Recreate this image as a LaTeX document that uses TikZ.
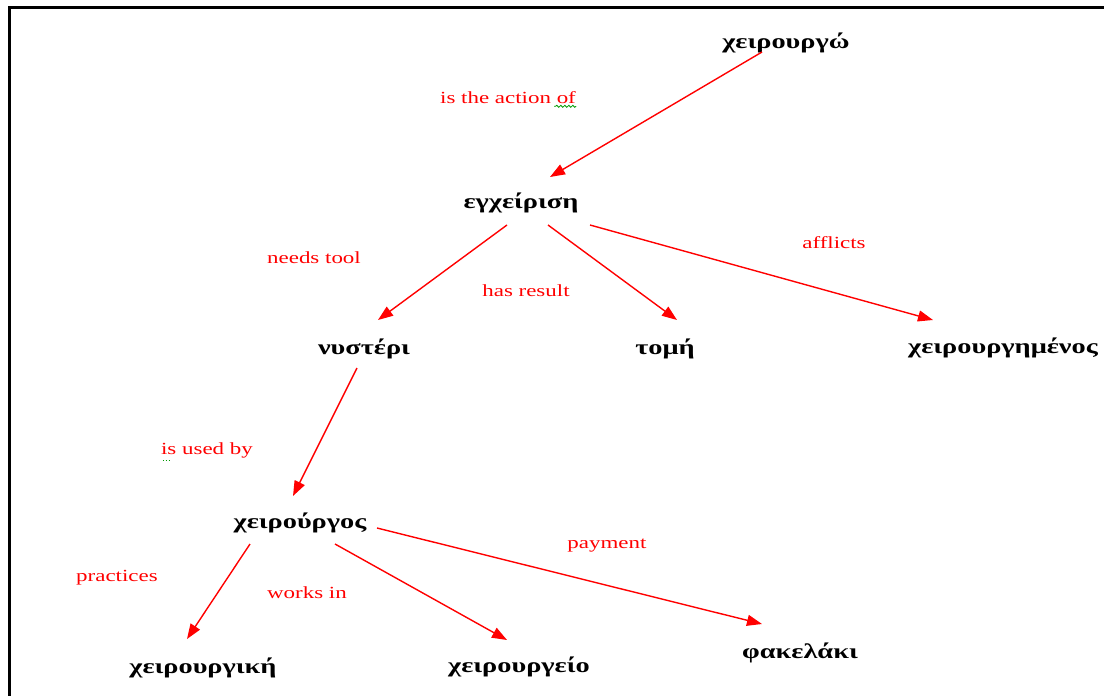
\documentclass[tikz,border=0pt]{standalone}
\usepackage{fontspec}
\setmainfont{Liberation Serif}[FakeStretch=1.35]
\usetikzlibrary{arrows.meta,decorations.pathmorphing}

\begin{document}
\begin{tikzpicture}[x=1pt,y=-1pt,
  term/.style={font=\bfseries\fontsize{21}{25}\selectfont, inner sep=0pt},
  rel/.style={font=\fontsize{17}{20}\selectfont, text=red, inner sep=0pt},
  link/.style={draw=red, line width=1.4pt, -{Triangle[length=15pt,width=11pt]}},
  spell/.style={draw=green!60!black, line width=0.8pt}]
\useasboundingbox (0,0) rectangle (1104,696);
\draw[line width=3pt] (9,696) -- (9,7.5) -- (1104,7.5);

% terms
\node[term] (operate)   at (786,43)  {χειρουργώ};
\node[term] (operation) at (521,203) {εγχείριση};
\node[term] (scalpel)   at (364,349) {νυστέρι};
\node[term] (incision)  at (665,349) {τομή};
\node[term] (patient)   at (1003,348) {χειρουργημένος};
\node[term] (surgeon)   at (300,523) {χειρούργος};
\node[term] (surgery)   at (203,668) {χειρουργική};
\node[term] (theatre)   at (519,667) {χειρουργείο};
\node[term] (envelope)  at (800,653) {φακελάκι};

% relation names
\node[rel] (actionof) at (508,98)  {is the action of};
\node[rel] (needs)    at (314,258) {needs tool};
\node[rel] (result)   at (526,291) {has result};
\node[rel] (afflicts) at (834,243) {afflicts};
\node[rel] (usedby)   at (207,450) {is used by};
\node[rel] (practice) at (117,578) {practices};
\node[rel] (worksin)  at (307,593) {works in};
\node[rel] (payment)  at (607,546) {payment};

% spell checker marks
\draw[spell, decorate, decoration={snake,amplitude=1pt,segment length=4pt}]
  ([yshift=-2pt]actionof.south east) -- ++(-22,0);
\draw[spell, dotted] ([xshift=2pt,yshift=-2pt]usedby.south west) -- ++(8,0);

% arrows
\draw[link] ([xshift=-24pt,yshift=-9pt]operate.center) -- ([xshift=29pt,yshift=26pt]operation.center);
\draw[link] ([xshift=-14pt,yshift=-22pt]operation.center) -- ([xshift=14pt,yshift=29pt]scalpel.center);
\draw[link] ([xshift=27pt,yshift=-22pt]operation.center) -- ([xshift=12pt,yshift=29pt]incision.center);
\draw[link] ([xshift=69pt,yshift=-22pt]operation.center) -- ([xshift=-70pt,yshift=28pt]patient.center);
\draw[link] ([xshift=-7pt,yshift=-19pt]scalpel.center) -- ([xshift=-7pt,yshift=27pt]surgeon.center);
\draw[link] ([xshift=-50pt,yshift=-21pt]surgeon.center) -- ([xshift=-16pt,yshift=29pt]surgery.center);
\draw[link] ([xshift=35pt,yshift=-21pt]surgeon.center) -- ([xshift=-12pt,yshift=27pt]theatre.center);
\draw[link] ([xshift=77pt,yshift=-5pt]surgeon.center) -- ([xshift=-38pt,yshift=29pt]envelope.center);
\end{tikzpicture}
\end{document}
